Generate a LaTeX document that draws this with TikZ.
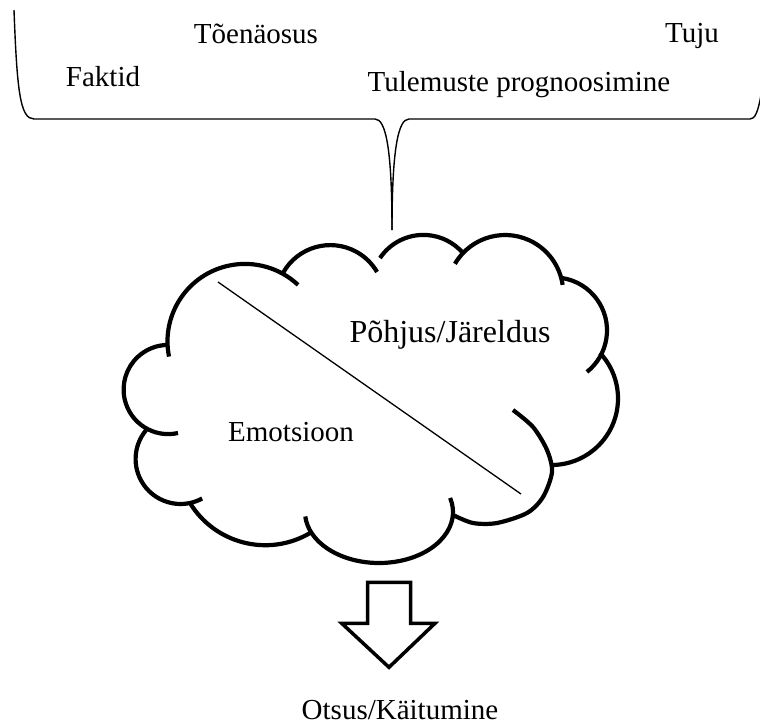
\documentclass[tikz,border=0pt]{standalone}
\usepackage{fontspec}
\setmainfont{Liberation Serif}
\begin{document}
\begin{tikzpicture}[x=1pt,y=-1pt,
  bracestyle/.style={line width=1.4pt},
  cloudline/.style={line width=4.2pt},
  lbl/.style={anchor=base,inner sep=0pt,font=\fontsize{29}{34}\selectfont},
  biglbl/.style={anchor=base,inner sep=0pt,font=\fontsize{32}{38}\selectfont}]
\useasboundingbox (0,0) rectangle (760,724);
\clip (0,0) rectangle (760,724);
% brace
\draw[bracestyle] (14,10) .. controls (17,90) and (20,119) .. (34,119) -- (375,119)
  .. controls (386,119) and (392,150) .. (392,230);
\draw[bracestyle] (409,119) .. controls (398,119) and (392,150) .. (392,230);
\draw[bracestyle] (409,119) -- (750,119) .. controls (755,119) and (758,112) .. (761,95) -- (764,0);
% texts in brace
\node[lbl] (t1) at (256,43) {Tõenäosus};
\node[lbl] (t2) at (692,42) {Tuju};
\node[lbl] (t3) at (103,86) {Faktid};
\node[lbl] (t4) at (519,91) {Tulemuste prognoosimine};
% cloud
\draw[cloudline] (245,341.4) ++(168.7:77.5) arc[start angle=168.7,end angle=313.2,radius=77.5];
\draw[cloudline] (330.3,299.2) ++(209:54.1) arc[start angle=209,end angle=329.8,radius=54.1];
\draw[cloudline] (423.4,287.2) ++(213.9:52.3) arc[start angle=213.9,end angle=319.2,radius=52.3];
\draw[cloudline] (505.1,293.1) ++(210.3:58.1) arc[start angle=210.3,end angle=351.9,radius=58.1];
\draw[cloudline] (554,330.4) ++(278.7:53) arc[start angle=278.7,end angle=411.6,radius=53];
\draw[cloudline] (551.5,398.5) ++(316.8:66.5) arc[start angle=316.8,end angle=448.7,radius=66.5];
\draw[cloudline] plot[smooth] coordinates {(513,410) (533,427) (547,450) (552,472) (543,497) (527,513) (497,523) (473,523) (453,515)};
\draw[cloudline] (379,512) ++({74*cos(-16)},{51*sin(-16)}) arc[start angle=-16,end angle=175,x radius=74,y radius=51];
\draw[cloudline] (265.3,456.9) ++(59.6:88.3) arc[start angle=59.6,end angle=148.5,radius=88.3];
\draw[cloudline] (180.6,459) ++(61.4:45) arc[start angle=61.4,end angle=223.6,radius=45];
\draw[cloudline] (168.2,389.5) ++(77.3:44.6) arc[start angle=77.3,end angle=268.5,radius=44.6];
% diagonal
\coordinate (d1) at (218,282);
\coordinate (d2) at (521,494);
\draw[line width=1.3pt] (d1) -- (d2);
\node[biglbl] (p1) at (450,342) {Põhjus/Järeldus};
\node[lbl] (e1) at (291,441) {Emotsioon};
% block arrow
\draw[line width=3.5pt,line join=miter] (367.7,582.3) -- (410.7,582.3) -- (410.7,623.3) -- (435,623.3)
  -- (389,667.3) -- (341.7,623.3) -- (367.7,623.3) -- cycle;
\node[lbl] (o1) at (400,719) {Otsus/Käitumine};
\end{tikzpicture}
\end{document}
